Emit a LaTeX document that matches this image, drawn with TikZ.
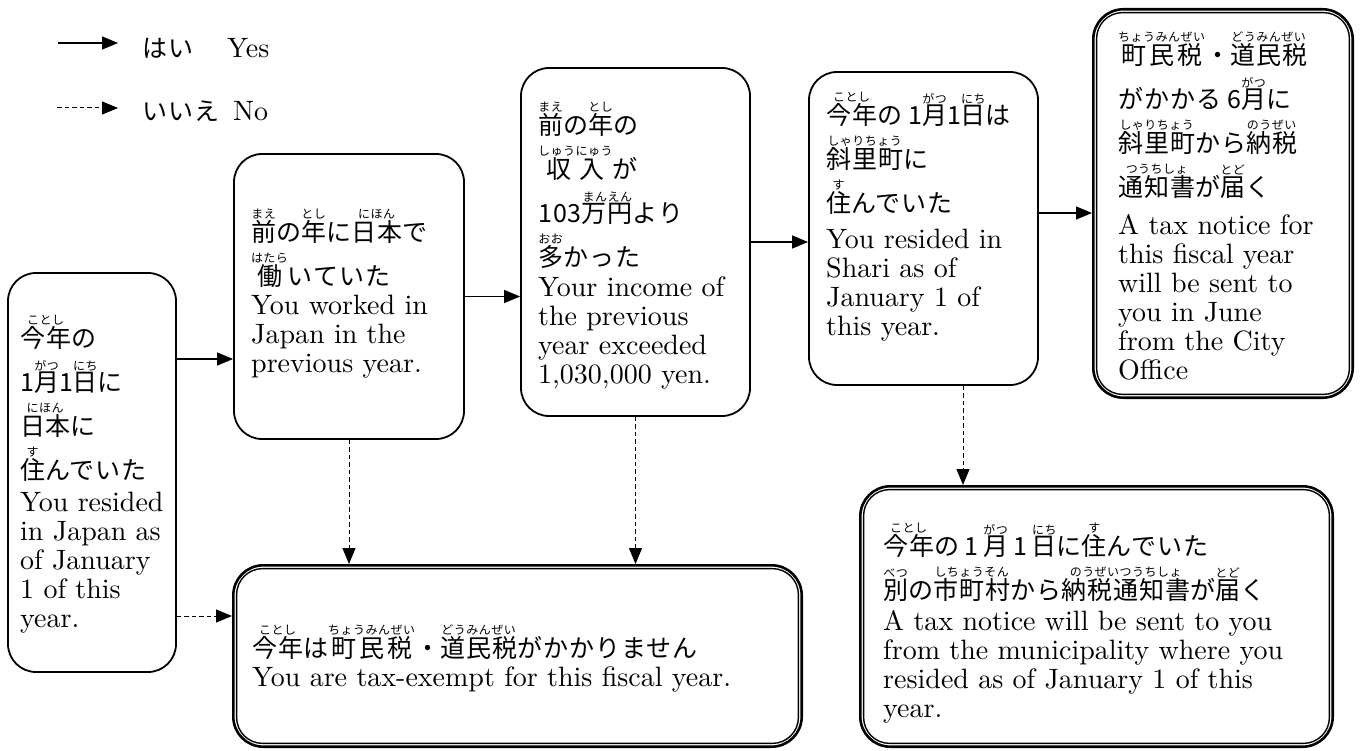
\documentclass[tikz,border=0pt]{standalone}
\usepackage{fontspec}
\setmainfont{lmroman10-regular}[Extension=.otf]
\newfontfamily\jpf[LetterSpace=4]{Noto Sans CJK JP}
\usetikzlibrary{arrows.meta,calc}
\newcommand\J[1]{{\fontsize{25}{29}\jpf\vrule height40pt depth3pt width0pt\relax #1}}
\newcommand\JL[1]{{\fontsize{25}{29}\jpf #1}}
\newcommand\rubyf{\fontsize{12}{12}\jpf}
\newcommand\rbsp{\hss{}}
\newdimen\rbw
\newbox\rbA
\newbox\rbB
\newcommand\rb[2]{\leavevmode\setbox\rbA=\hbox{#1}\setbox\rbB=\hbox{\rubyf #2}%
  \ifdim\wd\rbB>\wd\rbA\relax \rbw=\wd\rbB\relax \else \rbw=\wd\rbA\relax \fi
  \vbox{\offinterlineskip\hbox to\rbw{\hss\box\rbB\hss}\kern1pt\hbox to\rbw{\hss#1\hss}}}
\tikzset{
  box/.style={draw, line width=1.8pt, rounded corners=28pt, inner sep=0pt},
  dbox/.style={draw, line width=2.6pt, rounded corners=30pt, inner sep=0pt},
  inner/.style={draw, line width=1.4pt, rounded corners=26pt},
  txt/.style={anchor=north west, inner sep=0pt, align=left, font=\fontsize{28}{29}\selectfont},
  legtxt/.style={anchor=base west, inner sep=0pt, font=\fontsize{28}{29}\selectfont},
  yes/.style={line width=1.3pt, -{Triangle[length=16pt,width=13pt]}},
  no/.style={line width=1pt, dash pattern=on 4.5pt off 3pt, -{Triangle[length=16pt,width=13pt]}},
}
\begin{document}
\begin{tikzpicture}[x=1pt,y=-1pt]
\lineskip=0pt\relax
\lineskiplimit=0pt\relax
\useasboundingbox[fill=white] (0,0) rectangle (1360,751);

% legend
\coordinate (l1s) at (58,43);
\node[legtxt] (l1) at (142,58) {\makebox[85pt][l]{\JL{はい}}Yes};
\path ([xshift=-24pt]l1.west) coordinate (l1e);
\draw[yes] (l1s) -- (l1s -| l1e);
\coordinate (l2s) at (57,108);
\node[legtxt] (l2) at (142,121) {\makebox[91pt][l]{\JL{いいえ}}No};
\path ([xshift=-24pt]l2.west) coordinate (l2e);
\draw[no] (l2s) -- (l2s -| l2e);

% boxes
\node[box, minimum width=168pt, minimum height=399pt] (a) at (92,472.5) {};
\node[box, minimum width=230pt, minimum height=285pt] (b) at (349,296.5) {};
\node[box, minimum width=229pt, minimum height=348pt] (c) at (635.5,242) {};
\node[box, minimum width=229pt, minimum height=313pt] (d) at (923.5,228.5) {};
\node[dbox, minimum width=259.4pt, minimum height=388.4pt] (e) at (1223,203.5) {};
\node[dbox, minimum width=568.4pt, minimum height=181.4pt] (f) at (517.5,656) {};
\node[dbox, minimum width=472.4pt, minimum height=260.4pt] (g) at (1096.5,616.5) {};
\foreach \n in {e,f,g}
  \draw[inner] ([shift={(4.6pt,-4.6pt)}]\n.north west) rectangle ([shift={(-4.6pt,4.6pt)}]\n.south east);

% texts
\node[txt, text width=152pt] (ta) at (20,307) {%
\J{\rb{今年}{ことし}の}\\
\J{1\rb{月}{がつ}1\rb{日}{にち}に}\\
\J{\rb{日\rbsp 本}{にほん}に}\\
\J{\rb{住}{す}んでいた}\\[3pt]
You resided\\ in Japan as\\ of January\\ 1 of this\\ year.};

\node[txt, text width=210pt] (tb) at (251,201) {%
\J{\rb{前}{まえ}の\rb{年}{とし}に\rb{日本}{にほん}で}\\
\J{\rb{働}{はたら}いていた}\\
You worked in\\ Japan in the\\ previous year.};

\node[txt, text width=210pt] (tc) at (538,94) {%
\J{\rb{前}{まえ}の\rb{年}{とし}の}\\
\J{\rb{収\rbsp 入}{しゅうにゅう}が}\\
\J{103\rb{万円}{まんえん}より}\\
\J{\rb{多}{おお}かった}\\[1pt]
Your income of\\ the previous\\ year exceeded\\ 1,030,000 yen.};

\node[txt, text width=210pt] (td) at (826,84) {%
\J{\rb{今年}{ことし}の\hspace{6pt}1\rb{月}{がつ}1\rb{日}{にち}は}\\
\J{\rb{斜里町}{しゃりちょう}に}\\
\J{\rb{住}{す}んでいた}\\[7pt]
You resided in\\ Shari as of\\ January 1 of\\ this year.};

\node[txt, text width=232pt] (te) at (1118,24) {%
\J{\rb{町\rbsp 民\rbsp 税}{ちょうみんぜい}・\rb{道民税}{どうみんぜい}}\\
\J{がかかる\hspace{6pt}6\rb{月}{がつ}に}\\
\J{\rb{斜里町}{しゃりちょう}から\rb{納税}{のうぜい}}\\
\J{\rb{通知書}{つうちしょ}が\rb{届}{とど}く}\\[9pt]
A tax notice for\\ this fiscal year\\ will be sent to\\ you in June\\ from the City\\ Office};

\node[txt, text width=540pt] (tf) at (252,617) {%
\J{\rb{今年}{ことし}は\rb{町\rbsp 民\rbsp 税}{ちょうみんぜい}・\rb{道民税}{どうみんぜい}がかかりません}\\
You are tax-exempt for this fiscal year.};

\node[txt, text width=426pt] (tg) at (883,515) {%
\J{\rb{今年}{ことし}の\hspace{5pt}1\hspace{5pt}\rb{月}{がつ}\hspace{5pt}1\hspace{5pt}\rb{日}{にち}に\rb{住}{す}んでいた}\\
\J{\rb{別}{べつ}の\rb{市町村}{しちょうそん}から\rb{納税通知書}{のうぜいつうちしょ}が\rb{届}{とど}く}\\[2pt]
\makebox[\hsize][s]{A tax notice will be sent to you}\\
\makebox[\hsize][s]{from the municipality where you}\\
\makebox[\hsize][s]{resided as of January 1 of this}\\
year.};

% connectors
\draw[yes] ([yshift=113.5pt]a.east) coordinate (ab) -- (ab -| b.west);
\draw[yes] (b.east) -- (b.east -| c.west);
\draw[yes] (c.east) -- (c.east -| d.west);
\draw[yes] ([yshift=15.5pt]d.east) coordinate (de) -- (de -| e.west);
\draw[no] ([yshift=-143.5pt]a.east) coordinate (af) -- (af -| f.west);
\draw[no] (b.south) -- (b.south |- f.north);
\draw[no] (c.south) -- (c.south |- f.north);
\draw[no] ([xshift=39.5pt]d.south) coordinate (dg) -- (dg |- g.north);
\end{tikzpicture}
\end{document}
